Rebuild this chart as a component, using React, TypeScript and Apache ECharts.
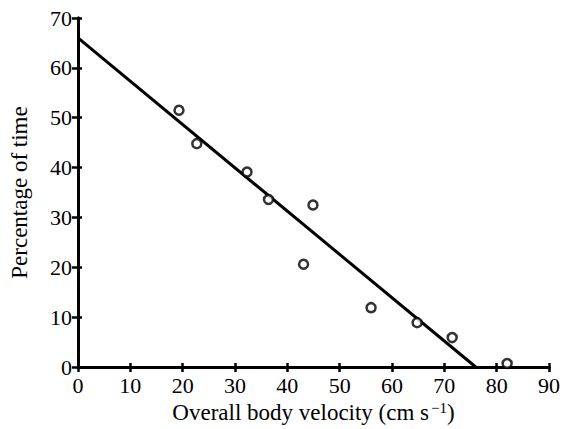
import React, { useEffect, useRef } from "react";
import * as echarts from "echarts";

const velocity = [19.3, 22.7, 32.3, 36.4, 44.9, 43.1, 56.0, 64.8, 71.5, 82.0];
const percentTime = [51.5, 44.8, 39.1, 33.6, 32.5, 20.6, 11.9, 8.9, 5.9, 0.7];
const fitLine = [
  [0, 66],
  [76, 0],
];
const xTitle = "Overall body velocity (cm s";
const xTitleSup = "−1";
const yTitle = "Percentage of time";

const FONT = "'Liberation Serif', 'DejaVu Serif', serif";

export default function App() {
  const ref = useRef<HTMLDivElement>(null);
  useEffect(() => {
    if (!ref.current) return;
    const chart = echarts.init(ref.current, undefined, { renderer: "svg" });
    const axisCommon = {
      axisLine: { show: true, lineStyle: { color: "#000", width: 3 } },
      splitLine: { show: false },
    };
    chart.setOption({
      animation: false,
      backgroundColor: "#fff",
      grid: { left: 76, right: 11, top: 18, bottom: 62 },
      xAxis: [
        {
          type: "value",
          min: 0,
          max: 90,
          interval: 10,
          position: "bottom",
          ...axisCommon,
          axisTick: { show: true, length: 5, lineStyle: { color: "#000", width: 2.5 } },
          axisLabel: {
            color: "#000",
            fontFamily: FONT,
            fontSize: 22,
            margin: 7,
          },
          name: `${xTitle}{sup|${xTitleSup}})`,
          nameLocation: "middle",
          nameGap: 33,
          nameTextStyle: {
            color: "#000",
            fontFamily: FONT,
            fontSize: 23,
            rich: {
              sup: {
                fontFamily: FONT,
                fontSize: 15,
                color: "#000",
                verticalAlign: "top",
                padding: [0, 0, 8, 2],
              },
            },
          },
        },
        {
          type: "value",
          min: 0,
          max: 90,
          interval: 10,
          position: "bottom",
          ...axisCommon,
          axisTick: { show: true, inside: true, length: 4, lineStyle: { color: "#000", width: 2.5 } },
          axisLabel: { show: false },
        },
      ],
      yAxis: [
        {
          type: "value",
          min: 0,
          max: 70,
          interval: 10,
          position: "left",
          ...axisCommon,
          axisTick: { show: true, length: 6, lineStyle: { color: "#000", width: 2.5 } },
          axisLabel: {
            color: "#000",
            fontFamily: FONT,
            fontSize: 22,
            margin: 6,
          },
          name: yTitle,
          nameLocation: "middle",
          nameGap: 47,
          nameTextStyle: { color: "#000", fontFamily: FONT, fontSize: 23 },
        },
        {
          type: "value",
          min: 0,
          max: 70,
          interval: 10,
          position: "left",
          ...axisCommon,
          axisTick: { show: true, inside: true, length: 4, lineStyle: { color: "#000", width: 2.5 } },
          axisLabel: { show: false },
        },
      ],
      series: [
        {
          type: "line",
          data: fitLine,
          showSymbol: false,
          symbol: "none",
          lineStyle: { color: "#000", width: 3 },
          z: 3,
        },
        {
          type: "scatter",
          data: velocity.map((v, i) => [v, percentTime[i]]),
          symbol: "circle",
          symbolSize: 9,
          itemStyle: { color: "#fff", borderColor: "#000", borderWidth: 2.5 },
          z: 4,
        },
      ],
    });
    return () => chart.dispose();
  }, []);
  return (
    <div
      ref={ref}
      style={{ position: "fixed", left: 0, top: 0, width: 563, height: 429 }}
    />
  );
}
